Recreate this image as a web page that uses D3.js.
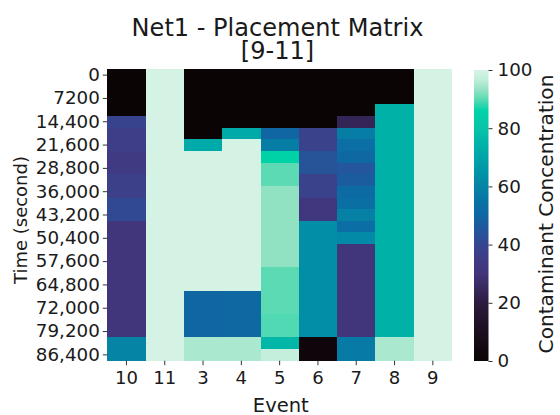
<!DOCTYPE html>
<html>
<head>
<meta charset="utf-8">
<script src="https://cdn.jsdelivr.net/npm/d3@7"></script>
<style>
  html, body { margin: 0; padding: 0; background: #ffffff; }
  svg { display: block; }
  text { font-family: "DejaVu Sans", sans-serif; fill: #1a1a1a; }
</style>
</head>
<body>
<svg id="chart" width="560" height="415"></svg>
<script>
// ---- data ----
const events = ["10", "11", "3", "4", "5", "6", "7", "8", "9"];
const times = [0, 3600, 7200, 10800, 14400, 18000, 21600, 25200, 28800, 32400, 36000, 39600,
  43200, 46800, 50400, 54000, 57600, 61200, 64800, 68400, 72000, 75600, 79200, 82800, 86400];
const yTickValues = [0, 7200, 14400, 21600, 28800, 36000, 43200, 50400, 57600, 64800, 72000, 79200, 86400];
const yTickLabels = ["0", "7200", "14,400", "21,600", "28,800", "36,000", "43,200", "50,400",
  "57,600", "64,800", "72,000", "79,200", "86,400"];
const cbTicks = [0, 20, 40, 60, 80, 100];

const ev10 = [0, 0, 0, 0, 39, 36, 36, 34, 34, 37, 37, 41, 41, 31, 31, 31, 31, 31, 31, 31, 31, 31, 31, 60, 60];
const ev11 = [100, 100, 100, 100, 100, 100, 100, 100, 100, 100, 100, 100, 100, 100, 100, 100, 100, 100, 100, 100, 100, 100, 100, 100, 100];
const ev3  = [0, 0, 0, 0, 0, 0, 72, 100, 100, 100, 100, 100, 100, 100, 100, 100, 100, 100, 100, 50, 50, 50, 50, 95, 95];
const ev4  = [0, 0, 0, 0, 0, 72, 100, 100, 100, 100, 100, 100, 100, 100, 100, 100, 100, 100, 100, 51, 51, 51, 51, 95, 95];
const ev5  = [0, 0, 0, 0, 0, 50, 58, 86, 90, 90, 93, 93, 93, 93, 93, 93, 93, 90, 90, 90, 90, 89.5, 89.5, 76, 97];
const ev6  = [0, 0, 0, 0, 0, 38, 38, 44, 44, 38, 38, 32, 32, 63, 63, 63, 63, 63, 63, 63, 63, 63, 63, 2, 2];
const ev7  = [0, 0, 0, 0, 24, 58, 53, 51, 45, 47, 52, 54, 59, 53, 62, 31, 31, 31, 31, 31, 31, 31, 31, 57, 57];
const ev8  = [0, 0, 0, 74, 74, 74, 74, 74, 74, 74, 74, 74, 74, 74, 74, 74, 74, 74, 74, 74, 74, 74, 74, 95, 95];
const ev9  = [100, 100, 100, 100, 100, 100, 100, 100, 100, 100, 100, 100, 100, 100, 100, 100, 100, 100, 100, 100, 100, 100, 100, 100, 100];
const seriesByEvent = { "10": ev10, "11": ev11, "3": ev3, "4": ev4, "5": ev5, "6": ev6, "7": ev7, "8": ev8, "9": ev9 };

// ---- colormap (mako-like, as seen in reference) ----
const cmapStops = [0, 10, 20, 30, 35, 40, 45, 50, 55, 60, 65, 70, 75, 80, 86, 90, 93, 97, 100];
const cmapColors = ["#0b0405", "#1b0f1e", "#2c1b3f", "#42347a", "#3f3c85", "#35468f", "#23569c",
  "#1066a2", "#0873a5", "#0584a5", "#0094a7", "#00a4a8", "#00b4a8", "#08c4a8", "#00d2a8",
  "#5cdab4", "#90e2c2", "#c4efdc", "#d4f3e4"];
const color = d3.scaleLinear().domain(cmapStops).range(cmapColors).interpolate(d3.interpolateRgb).clamp(true);

// ---- layout ----
const svg = d3.select("#chart");
const plot = { left: 107.3, right: 452, top: 69.3, bottom: 360.7 };
const cb = { left: 474, right: 488.5, top: 70, bottom: 361 };

// size a group of texts so that a reference text gets a target advance width
function fitFont(sel, sample, target, base) {
  const probe = svg.append("text").style("font-size", base + "px").text(sample);
  const w = probe.node().getComputedTextLength();
  probe.remove();
  const fs = w > 0 ? base * target / w : base;
  sel.style("font-size", fs + "px");
  return fs;
}

const x = d3.scaleBand().domain(events).range([plot.left, plot.right]).padding(0);
const y = d3.scaleBand().domain(times).range([plot.top, plot.bottom]).padding(0);

const cells = [];
events.forEach(ev => {
  seriesByEvent[ev].forEach((v, i) => cells.push({ ev, t: times[i], v }));
});

svg.append("g").selectAll("rect").data(cells).join("rect")
  .attr("x", d => x(d.ev))
  .attr("y", d => y(d.t))
  .attr("width", x.bandwidth() + 0.3)
  .attr("height", y.bandwidth() + 0.3)
  .attr("fill", d => color(d.v))
  .attr("shape-rendering", "crispEdges");

// axes
const yAxis = svg.append("g")
  .attr("transform", `translate(${plot.left},0)`)
  .call(d3.axisLeft(y).tickValues(yTickValues)
    .tickFormat(t => yTickLabels[yTickValues.indexOf(t)])
    .tickSize(4.5).tickPadding(3));
const xAxis = svg.append("g")
  .attr("transform", `translate(0,${plot.bottom})`)
  .call(d3.axisBottom(x).tickSize(4.5).tickPadding(5.5));
[yAxis, xAxis].forEach(g => {
  g.select(".domain").remove();
  g.selectAll(".tick line").attr("stroke", "#333").attr("stroke-width", 1);
  g.selectAll(".tick text").style("font-family", "DejaVu Sans").attr("fill", "#1a1a1a");
});
fitFont(yAxis.selectAll(".tick text"), "86,400", 64, 18);
fitFont(xAxis.selectAll(".tick text"), "10", 23, 18);

// colorbar
const defs = svg.append("defs");
const grad = defs.append("linearGradient").attr("id", "cbgrad")
  .attr("x1", "0%").attr("y1", "100%").attr("x2", "0%").attr("y2", "0%");
d3.range(0, 101, 1).forEach(v => {
  grad.append("stop").attr("offset", v + "%").attr("stop-color", color(v));
});
const cbScale = d3.scaleLinear().domain([0, 100]).range([cb.bottom, cb.top]);
svg.append("rect")
  .attr("x", cb.left).attr("y", cb.top)
  .attr("width", cb.right - cb.left).attr("height", cb.bottom - cb.top)
  .attr("fill", "url(#cbgrad)");
const cbAxis = svg.append("g")
  .attr("transform", `translate(${cb.right},0)`)
  .call(d3.axisRight(cbScale).tickValues(cbTicks).tickSize(4).tickPadding(5));
cbAxis.select(".domain").remove();
cbAxis.selectAll(".tick line").attr("stroke", "#333");
cbAxis.selectAll(".tick text").style("font-family", "DejaVu Sans").attr("fill", "#1a1a1a");
fitFont(cbAxis.selectAll(".tick text"), "100", 35, 18);

// titles / labels
const titleX = 277.5;
const title = svg.append("text").attr("text-anchor", "middle");
title.append("tspan").attr("x", titleX).attr("y", 36).text("Net1 - Placement Matrix");
title.append("tspan").attr("x", titleX).attr("y", 59).text("[9-11]");
fitFont(title, "Net1 - Placement Matrix", 292, 24);

const evLabel = svg.append("text").attr("x", 280.8).attr("y", 411.5).attr("text-anchor", "middle").text("Event");
fitFont(evLabel, "Event", 56, 19);
const timeLabel = svg.append("text").attr("transform", "translate(26.5,220) rotate(-90)")
  .attr("text-anchor", "middle").text("Time (second)");
fitFont(timeLabel, "Time (second)", 128, 18);
const cbLabel = svg.append("text").attr("transform", "translate(552.5,214) rotate(-90)")
  .attr("text-anchor", "middle").text("Contaminant Concentration");
fitFont(cbLabel, "Contaminant Concentration", 279, 19);
</script>
</body>
</html>
